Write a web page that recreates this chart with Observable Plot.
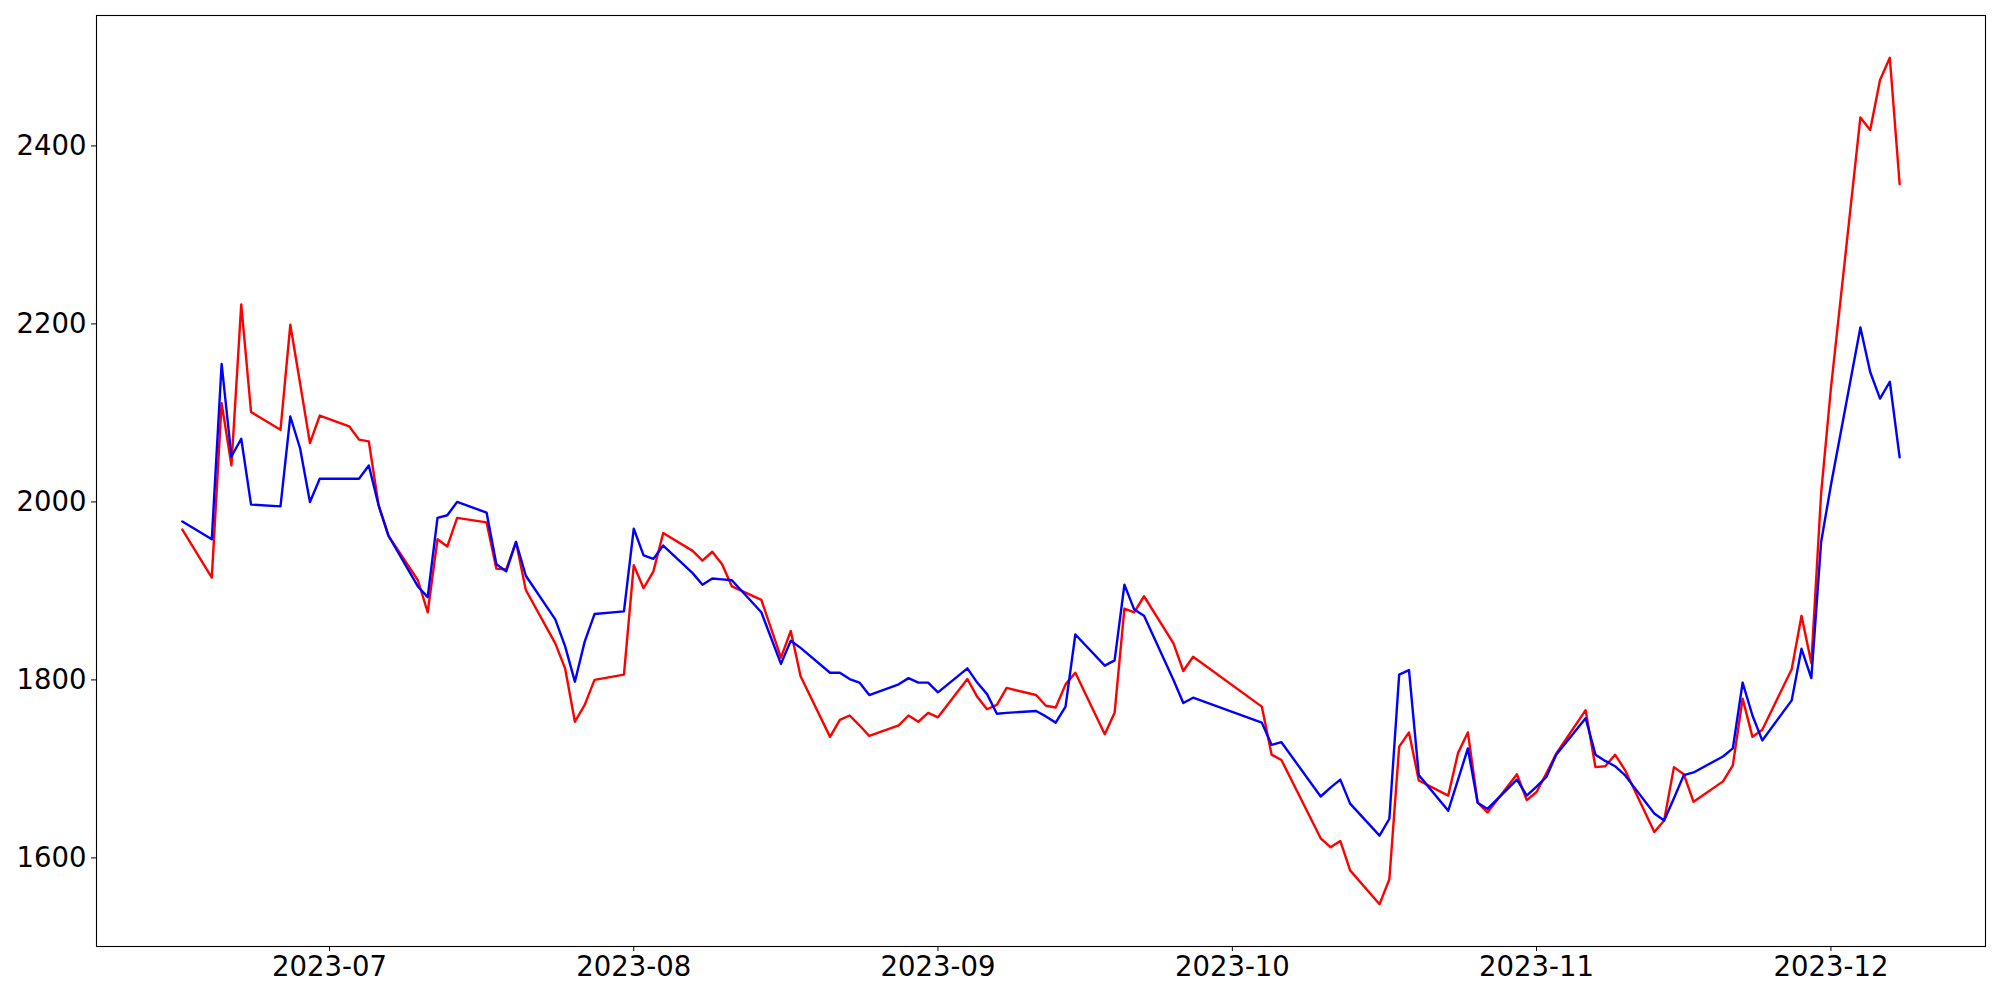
<!DOCTYPE html>
<html>
<head>
<meta charset="utf-8">
<script src="https://cdn.jsdelivr.net/npm/d3@7"></script>
<script src="https://cdn.jsdelivr.net/npm/@observablehq/plot@0.6"></script>
<style>
  html, body { margin: 0; padding: 0; background: white; }
  #chart { width: 2000px; height: 1000px; }
</style>
</head>
<body>
<div id="chart"></div>
<script>
const dates = [
  "2023-06-16","2023-06-19","2023-06-20","2023-06-21","2023-06-22","2023-06-23",
  "2023-06-26","2023-06-27","2023-06-28","2023-06-29","2023-06-30",
  "2023-07-03","2023-07-04","2023-07-05","2023-07-06","2023-07-07",
  "2023-07-10","2023-07-11","2023-07-12","2023-07-13","2023-07-14",
  "2023-07-17","2023-07-18","2023-07-19","2023-07-20","2023-07-21",
  "2023-07-24","2023-07-25","2023-07-26","2023-07-27","2023-07-28",
  "2023-07-31","2023-08-01","2023-08-02","2023-08-03","2023-08-04",
  "2023-08-07","2023-08-08","2023-08-09","2023-08-10","2023-08-11",
  "2023-08-14","2023-08-16","2023-08-17","2023-08-18",
  "2023-08-21","2023-08-22","2023-08-23","2023-08-24","2023-08-25",
  "2023-08-28","2023-08-29","2023-08-30","2023-08-31","2023-09-01",
  "2023-09-04","2023-09-05","2023-09-06","2023-09-07","2023-09-08",
  "2023-09-11","2023-09-12","2023-09-13","2023-09-14","2023-09-15",
  "2023-09-18","2023-09-19","2023-09-20","2023-09-21","2023-09-22",
  "2023-09-25","2023-09-26","2023-09-27",
  "2023-10-04","2023-10-05","2023-10-06",
  "2023-10-10","2023-10-11","2023-10-12","2023-10-13",
  "2023-10-16","2023-10-17","2023-10-18","2023-10-19","2023-10-20",
  "2023-10-23","2023-10-24","2023-10-25","2023-10-26","2023-10-27",
  "2023-10-30","2023-10-31","2023-11-01","2023-11-02","2023-11-03",
  "2023-11-06","2023-11-07","2023-11-08","2023-11-09","2023-11-10",
  "2023-11-13","2023-11-14","2023-11-15","2023-11-16","2023-11-17",
  "2023-11-20","2023-11-21","2023-11-22","2023-11-23","2023-11-24",
  "2023-11-27","2023-11-28","2023-11-29","2023-11-30","2023-12-01",
  "2023-12-04","2023-12-05","2023-12-06","2023-12-07","2023-12-08"
];

const redValues = [
  1969,1915,2111,2041,2222,2101,
  2081,2199,2133,2066,2097,
  2085,2070,2068,1996,1962,
  1912,1876,1958,1950,1982,
  1977,1925,1924,1955,1901,
  1841,1813,1753,1772,1800,
  1806,1929,1903,1922,1965,
  1945,1934,1944,1930,1905,
  1890,1825,1855,1804,
  1736,1755,1760,1749,1737,
  1749,1760,1753,1763,1758,
  1801,1781,1767,1772,1791,
  1783,1771,1769,1795,1808,
  1739,1763,1880,1876,1894,
  1841,1810,1826,
  1770,1716,1710,
  1622,1612,1619,1586,
  1548,1576,1725,1741,1687,
  1670,1718,1741,1662,1651,
  1694,1665,1674,1695,1717,
  1766,1702,1703,1716,1699,
  1629,1642,1702,1694,1663,
  1686,1704,1779,1736,1744,
  1812,1872,1819,2010,2128,
  2432,2418,2474,2499,2357
];

const blueValues = [
  1978,1958,2155,2051,2071,1997,
  1995,2096,2060,2000,2026,
  2026,2026,2041,1996,1962,
  1905,1893,1982,1985,2000,
  1988,1930,1922,1955,1917,
  1868,1838,1798,1843,1874,
  1877,1970,1940,1936,1951,
  1920,1907,1914,1913,1912,
  1876,1818,1844,1836,
  1808,1808,1801,1797,1783,
  1795,1802,1797,1797,1786,
  1813,1797,1784,1762,1763,
  1765,1759,1752,1770,1851,
  1816,1822,1907,1879,1872,
  1800,1774,1780,
  1752,1727,1730,
  1669,1679,1688,1661,
  1625,1644,1806,1811,1693,
  1653,1688,1723,1662,1655,
  1688,1670,1680,1691,1716,
  1757,1716,1709,1703,1693,
  1650,1642,1667,1693,1696,
  1714,1723,1797,1760,1732,
  1777,1835,1802,1955,2019,
  2196,2146,2116,2135,2050
];

const yTicks = [1600, 1800, 2000, 2200, 2400];
const xTickLabels = ["2023-07","2023-08","2023-09","2023-10","2023-11","2023-12"];

const parsed = dates.map(d => new Date(d + "T00:00:00Z"));
const redData = parsed.map((d, i) => ({date: d, value: redValues[i]}));
const blueData = parsed.map((d, i) => ({date: d, value: blueValues[i]}));
const xTicks = xTickLabels.map(s => new Date(s + "-01T00:00:00Z"));

// matplotlib-like 5% margins around data
const [x0, x1] = d3.extent(parsed);
const xPad = (x1 - x0) * 0.05;
const allY = redValues.concat(blueValues);
const [y0, y1] = d3.extent(allY);
const yPad = (y1 - y0) * 0.05;

const chart = Plot.plot({
  width: 2000,
  height: 1000,
  marginLeft: 96,
  marginRight: 15,
  marginTop: 15,
  marginBottom: 54,
  style: {fontFamily: "DejaVu Sans", fontSize: "27.5px", background: "white", color: "black"},
  x: {type: "utc", domain: [new Date(+x0 - xPad), new Date(+x1 + xPad)]},
  y: {domain: [y0 - yPad, y1 + yPad]},
  marks: [
    Plot.axisY({ticks: yTicks, tickSize: 5, tickPadding: 5, label: null, fontSize: 27.5, tickFormat: d => String(d)}),
    Plot.axisX({ticks: xTicks, tickSize: 5, tickPadding: 5, label: null, fontSize: 27.5, tickFormat: d3.utcFormat("%Y-%m")}),
    Plot.lineY(redData, {x: "date", y: "value", stroke: "red", strokeWidth: 2.4, strokeLinejoin: "round"}),
    Plot.lineY(blueData, {x: "date", y: "value", stroke: "blue", strokeWidth: 2.4, strokeLinejoin: "round"}),
    Plot.frame({stroke: "black", strokeWidth: 1.1})
  ]
});
document.getElementById("chart").appendChild(chart);
</script>
</body>
</html>
